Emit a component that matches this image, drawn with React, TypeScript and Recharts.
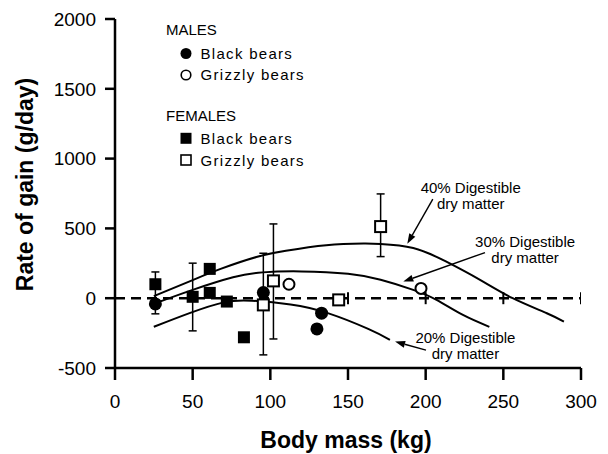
import React from 'react';
import {
  ComposedChart,
  XAxis,
  YAxis,
  Scatter,
  Line,
  ReferenceLine,
  ReferenceDot,
  ErrorBar,
  Legend,
  Label,
} from 'recharts';

const FONT = '"Liberation Sans", Arial, Helvetica, sans-serif';

// ---- axes ----
const xTicks = [0, 50, 100, 150, 200, 250, 300];
const yTicks = [-500, 0, 500, 1000, 1500, 2000];

// ---- observations ----
const maleBlackX = [26, 95.5, 130, 133];
const maleBlackY = [-41, 40, -220, -107];
const maleGrizzlyX = [112, 197];
const maleGrizzlyY = [100, 70];
const femaleBlackX = [26, 50, 61, 61, 72, 83];
const femaleBlackY = [100, 10, 210, 38, -24, -280];
const femaleGrizzlyX = [95.5, 102, 144, 171];
const femaleGrizzlyY = [-48, 124, -12, 513];

// ---- vertical ranges (error bars) ----
const rangeX = [26, 50, 95.5, 102, 171];
const rangeLow = [-112, -234, -406, -292, 298];
const rangeHigh = [188, 251, 322, 532, 747];

// ---- tick marks on the zero line ----
const zeroTickX = [150, 200, 250, 300];

// ---- predicted curves ----
const curve40X = [25, 50, 68, 91, 110, 136, 160, 171, 192, 213, 235, 256, 278, 289];
const curve40Y = [15, 130, 210, 295, 340, 380, 391, 388, 359, 263, 131, 0, -108, -168];
const curve30X = [25, 50, 76, 95, 120, 150, 171, 192, 207, 224, 241];
const curve30Y = [-40, 60, 150, 185, 192, 175, 132, 60, -12, -120, -205];
const curve20X = [25, 48, 70, 88, 113, 137, 163, 177];
const curve20Y = [-205, -107, -30, -18, -45, -107, -220, -298];

// ---- annotations ----
const noteLine1 = ['40% Digestible', '30% Digestible', '20% Digestible'];
const noteLine2 = ['dry matter', 'dry matter', 'dry matter'];
const noteX = [229, 264, 225.6];
const noteY = [755, 366, -318];
const arrowFromX = [204.6, 238.2, 200.2];
const arrowFromY = [710, 327, -372];
const arrowToX = [188.2, 185.6, 180.3];
const arrowToY = [390, 119, -311];

// ---- legend ----
const legendGroups = ['MALES', 'FEMALES'];
const legendLabels = ['Black bears', 'Grizzly bears'];

const zip = (xs: number[], ys: number[]) => xs.map((x, i) => ({ x, y: ys[i] }));

const maleBlack = zip(maleBlackX, maleBlackY);
const maleGrizzly = zip(maleGrizzlyX, maleGrizzlyY);
const femaleBlack = zip(femaleBlackX, femaleBlackY);
const femaleGrizzly = zip(femaleGrizzlyX, femaleGrizzlyY);
const ranges = rangeX.map((x, i) => ({
  x,
  y: (rangeLow[i] + rangeHigh[i]) / 2,
  err: (rangeHigh[i] - rangeLow[i]) / 2,
}));
const zeroTicks = zeroTickX.map((x) => ({ x, y: 0 }));
const curve40 = zip(curve40X, curve40Y);
const curve30 = zip(curve30X, curve30Y);
const curve20 = zip(curve20X, curve20Y);

const FilledCircle = (p: any) => <circle cx={p.cx} cy={p.cy} r={6.5} fill="#000" />;
const OpenCircle = (p: any) => (
  <circle cx={p.cx} cy={p.cy} r={5.5} fill="#fff" stroke="#000" strokeWidth={2} />
);
const FilledSquare = (p: any) => (
  <rect x={p.cx - 6} y={p.cy - 6} width={12} height={12} fill="#000" />
);
const OpenSquare = (p: any) => (
  <rect x={p.cx - 5.5} y={p.cy - 5.5} width={11} height={11} fill="#fff" stroke="#000" strokeWidth={2} />
);
const ZeroTick = (p: any) => (
  <line x1={p.cx} x2={p.cx} y1={p.cy - 6} y2={p.cy + 6} stroke="#000" strokeWidth={2} />
);
const Hidden = () => <g />;

const Arrow = (props: any) => {
  const x1 = Number(props.x1);
  const y1 = Number(props.y1);
  const x2 = Number(props.x2);
  const y2 = Number(props.y2);
  const ang = Math.atan2(y2 - y1, x2 - x1);
  const L = 10;
  const W = 3.5;
  const bx = x2 - L * Math.cos(ang);
  const by = y2 - L * Math.sin(ang);
  const pts = `${x2},${y2} ${bx + W * Math.sin(ang)},${by - W * Math.cos(ang)} ${bx - W * Math.sin(ang)},${by + W * Math.cos(ang)}`;
  return (
    <g>
      <line x1={x1} y1={y1} x2={bx} y2={by} stroke="#000" strokeWidth={1.4} />
      <polygon points={pts} fill="#000" />
    </g>
  );
};

const makeNote = (i: number) => (p: any) => (
  <text
    x={p.cx}
    y={p.cy}
    textAnchor="middle"
    fontFamily={FONT}
    fontSize={15}
    fill="#000"
  >
    <tspan x={p.cx}>{noteLine1[i]}</tspan>
    <tspan x={p.cx} dy={16}>
      {noteLine2[i]}
    </tspan>
  </text>
);

const LegendBox = () => {
  const itemStyle = { fontFamily: FONT, fontSize: 15, letterSpacing: 1.3 } as const;
  const headStyle = { fontFamily: FONT, fontSize: 15 } as const;
  return (
    <svg width={180} height={160} style={{ display: 'block' }}>
      <text x={6} y={17} fill="#000" style={headStyle}>
        {legendGroups[0]}
      </text>
      <circle cx={26} cy={35.5} r={5.5} fill="#000" />
      <text x={40.5} y={41.3} fill="#000" style={itemStyle}>
        {legendLabels[0]}
      </text>
      <circle cx={26} cy={57} r={4.8} fill="#fff" stroke="#000" strokeWidth={1.6} />
      <text x={40.5} y={62.3} fill="#000" style={itemStyle}>
        {legendLabels[1]}
      </text>
      <text x={6} y={103} fill="#000" style={headStyle}>
        {legendGroups[1]}
      </text>
      <rect x={20.5} y={114.8} width={11} height={11} fill="#000" />
      <text x={40.5} y={126} fill="#000" style={itemStyle}>
        {legendLabels[0]}
      </text>
      <rect x={21} y={137} width={10} height={10} fill="#fff" stroke="#000" strokeWidth={1.6} />
      <text x={40.5} y={147.5} fill="#000" style={itemStyle}>
        {legendLabels[1]}
      </text>
    </svg>
  );
};

export default function App() {
  return (
    <div style={{ position: 'absolute', left: 0, top: 0, width: 608, height: 454, background: '#fff', fontFamily: FONT }}>
      <ComposedChart width={608} height={454} margin={{ top: 19, right: 27, bottom: 0, left: 0 }}>
        <XAxis
          type="number"
          dataKey="x"
          domain={[0, 300]}
          ticks={xTicks}
          interval={0}
          allowDataOverflow
          height={86}
          axisLine={{ stroke: '#000', strokeWidth: 2.5 }}
          tickLine={{ stroke: '#000', strokeWidth: 2.5 }}
          tickSize={12}
          tickMargin={15}
          tick={{ fill: '#000', fontSize: 19, fontFamily: FONT }}
        >
          <Label
            content={(p: any) => {
              const vb = p.viewBox || {};
              return (
                <text
                  x={vb.x + vb.width / 2 - 2}
                  y={vb.y + vb.height - 6}
                  textAnchor="middle"
                  fontFamily={FONT}
                  fontWeight="bold"
                  fontSize={23}
                  fill="#000"
                >
                  Body mass (kg)
                </text>
              );
            }}
          />
        </XAxis>
        <YAxis
          type="number"
          dataKey="y"
          domain={[-500, 2000]}
          ticks={yTicks}
          interval={0}
          allowDataOverflow
          width={115}
          axisLine={{ stroke: '#000', strokeWidth: 2.5 }}
          tickLine={{ stroke: '#000', strokeWidth: 2.5 }}
          tickSize={10}
          tickMargin={9}
          tick={{ fill: '#000', fontSize: 19, fontFamily: FONT }}
        >
          <Label
            content={(p: any) => {
              const vb = p.viewBox || {};
              const cx = vb.x + 33;
              const cy = vb.y + vb.height / 2 - 9;
              return (
                <text
                  x={cx}
                  y={cy}
                  transform={`rotate(-90, ${cx}, ${cy})`}
                  textAnchor="middle"
                  fontFamily={FONT}
                  fontWeight="bold"
                  fontSize={23}
                  fill="#000"
                >
                  Rate of gain (g/day)
                </text>
              );
            }}
          />
        </YAxis>

        <Legend
          layout="horizontal"
          verticalAlign="middle"
          align="center"
          content={() => <LegendBox />}
          wrapperStyle={{ left: 160, top: 18, width: 180, height: 160 }}
        />

        <Line data={curve40} dataKey="y" type="natural" stroke="#000" strokeWidth={2} dot={false} activeDot={false} isAnimationActive={false} />
        <Line data={curve30} dataKey="y" type="natural" stroke="#000" strokeWidth={2} dot={false} activeDot={false} isAnimationActive={false} />
        <Line data={curve20} dataKey="y" type="natural" stroke="#000" strokeWidth={2} dot={false} activeDot={false} isAnimationActive={false} />

        <ReferenceLine y={0} stroke="#000" strokeWidth={2.5} strokeDasharray="10 6" />
        <Scatter data={zeroTicks} dataKey="y" shape={ZeroTick} isAnimationActive={false} />

        <Scatter data={ranges} dataKey="y" shape={Hidden} isAnimationActive={false}>
          <ErrorBar dataKey="err" direction="y" width={4} stroke="#000" strokeWidth={1.5} />
        </Scatter>

        <Scatter data={femaleBlack} dataKey="y" shape={FilledSquare} isAnimationActive={false} />
        <Scatter data={maleBlack} dataKey="y" shape={FilledCircle} isAnimationActive={false} />
        <Scatter data={femaleGrizzly} dataKey="y" shape={OpenSquare} isAnimationActive={false} />
        <Scatter data={maleGrizzly} dataKey="y" shape={OpenCircle} isAnimationActive={false} />

        {noteX.map((x, i) => (
          <ReferenceLine
            key={`arrow-${i}`}
            segment={[
              { x: arrowFromX[i], y: arrowFromY[i] },
              { x: arrowToX[i], y: arrowToY[i] },
            ]}
            shape={Arrow}
          />
        ))}
        {noteX.map((x, i) => (
          <ReferenceDot key={`note-${i}`} x={x} y={noteY[i]} r={0} shape={makeNote(i)} />
        ))}
      </ComposedChart>
    </div>
  );
}
